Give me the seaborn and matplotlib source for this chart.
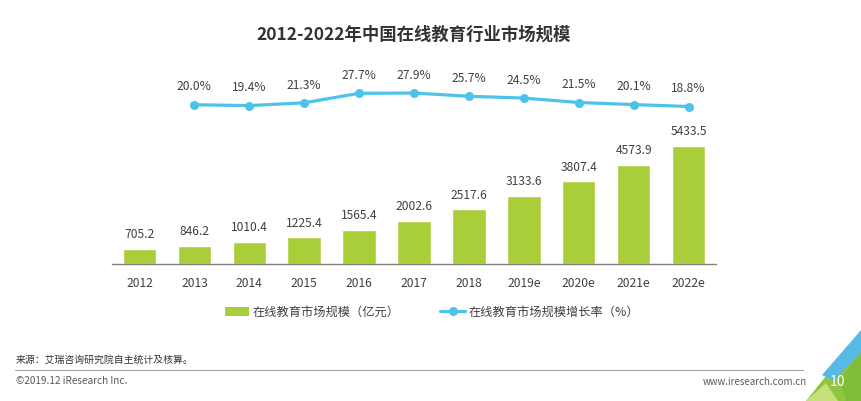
import matplotlib
matplotlib.use("Agg")
import matplotlib.pyplot as plt
import seaborn as sns
import pandas as pd
from matplotlib.patches import Polygon, Patch
from matplotlib.lines import Line2D

years = ["2012", "2013", "2014", "2015", "2016", "2017", "2018", "2019e", "2020e", "2021e", "2022e"]
market_size = [705.2, 846.2, 1010.4, 1225.4, 1565.4, 2002.6, 2517.6, 3133.6, 3807.4, 4573.9, 5433.5]
growth_rate = [20.0, 19.4, 21.3, 27.7, 27.9, 25.7, 24.5, 21.5, 20.1, 18.8]
growth_years = years[1:]

title = "2012-2022年中国在线教育行业市场规模"
bar_label = "在线教育市场规模（亿元）"
line_label = "在线教育市场规模增长率（%）"
source = "来源：艾瑞咨询研究院自主统计及核算。"
copyright_txt = "©2019.12 iResearch Inc."
website = "www.iresearch.com.cn"
page_no = "10"

sns.set_theme(style="white")
FONT = ["Noto Sans CJK SC", "DejaVu Sans"]
plt.rcParams["font.family"] = FONT

GREEN = "#AACD3A"
BLUE = "#4DC3EA"
TXT = "#404040"
NUM_FS = 8.7

W, H = 862, 402
fig = plt.figure(figsize=(W / 100, H / 100), dpi=100)
fig.patch.set_facecolor("white")

def fx(x):
    return x / W

def fy(y):
    return 1 - y / H

ax_left, ax_right, ax_bottom, ax_top = 112, 716, 265, 60
ax = fig.add_axes([fx(ax_left), fy(ax_bottom), fx(ax_right - ax_left), (ax_bottom - ax_top) / H])

df_bar = pd.DataFrame({"year": years, "size": market_size})
sns.barplot(data=df_bar, x="year", y="size", color=GREEN, width=0.61, ax=ax,
            saturation=1, label=bar_label)
ax.set_ylim(0, 5433.5 * 205 / 118)
ax.set_xlim(-0.5, len(years) - 0.5)
for i, v in enumerate(market_size):
    ax.annotate(f"{v:.1f}", (i, v), xytext=(0, 11), textcoords="offset points",
                ha="center", va="center", fontsize=NUM_FS, color=TXT)

ax2 = ax.twinx()
df_line = pd.DataFrame({"year": growth_years, "rate": growth_rate})
pos = [years.index(y) for y in growth_years]
df_line["pos"] = pos
sns.lineplot(data=df_line, x="pos", y="rate", ax=ax2, color=BLUE, linewidth=2.3,
             marker="o", markersize=6.5, markeredgewidth=0, label=line_label)
lo = 18.8 - 157.5 / 1.48
ax2.set_ylim(lo, lo + 205 / 1.48)
ax2.set_xlim(-0.5, len(years) - 0.5)
for i, v in zip(pos, growth_rate):
    ax2.annotate(f"{v:.1f}%", (i, v), xytext=(0, 13.5), textcoords="offset points",
                 ha="center", va="center", fontsize=NUM_FS, color=TXT)

for a in (ax, ax2):
    for s in a.spines.values():
        s.set_visible(False)
    a.set_yticks([])
    a.set_xlabel("")
    a.set_ylabel("")
    if a.get_legend() is not None:
        a.get_legend().remove()
ax.spines["bottom"].set_visible(True)
ax.spines["bottom"].set_color("#7f7f7f")
ax.spines["bottom"].set_linewidth(1.0)
ax.set_xticks(range(len(years)))
ax.set_xticklabels(years)
ax.tick_params(axis="x", length=0, pad=8.5, labelsize=NUM_FS, labelcolor=TXT)

# legend
handles = [Patch(facecolor=GREEN, edgecolor="none"),
           Line2D([], [], color=BLUE, linewidth=2.3, marker="o", markersize=6.5, markeredgewidth=0)]
fig.legend(handles, [bar_label, line_label], loc="center", bbox_to_anchor=(fx(432), fy(313)),
           ncol=2, frameon=False, fontsize=8.8, labelcolor=TXT, handlelength=2.0,
           handleheight=0.75, handletextpad=0.3, columnspacing=3.3)

# title
fig.text(fx(414), fy(35), title, ha="center", va="center", fontsize=12.5,
         fontweight="bold", color="#333333")

# footer
fig.text(fx(16), fy(360), source, ha="left", va="center", fontsize=7.1, color="#333333")
fig.add_artist(Line2D([fx(15), fx(803)], [fy(371), fy(371)], transform=fig.transFigure,
                      color="#a6a6a6", linewidth=0.8))
fig.text(fx(16), fy(381), copyright_txt, ha="left", va="center", fontsize=7.2, color="#595959")
fig.text(fx(807), fy(382), website, ha="right", va="center", fontsize=7.0, color="#595959")

def poly(pts, color):
    fig.add_artist(Polygon([(fx(x), fy(y)) for x, y in pts], closed=True,
                           transform=fig.transFigure, facecolor=color, edgecolor="none"))

poly([(806, 402), (862, 402), (862, 332)], "#8DC63F")
poly([(806, 402), (838, 402), (826, 384)], "#C5E07A")
poly([(822, 376), (862, 330), (862, 352), (834, 382)], "#56B9E6")
poly([(840, 380), (862, 352), (862, 402), (846, 402)], "#7DBE36")
fig.text(fx(838), fy(382), page_no, ha="center", va="center", fontsize=10, color="white")

fig.savefig("out.png", dpi=100)
